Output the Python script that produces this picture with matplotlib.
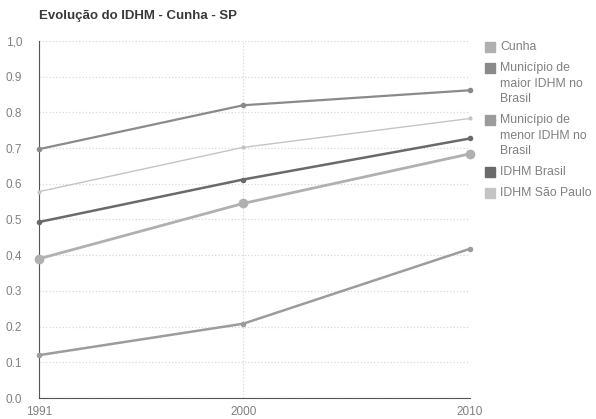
import matplotlib.pyplot as plt
from matplotlib.patches import Rectangle

anos = [1991, 2000, 2010]
cunha = [0.390, 0.545, 0.684]
maior_idhm = [0.697, 0.820, 0.862]
menor_idhm = [0.120, 0.208, 0.418]
idhm_brasil = [0.493, 0.612, 0.727]
idhm_sp = [0.578, 0.702, 0.783]

nomes = ['Cunha', 'Município de\nmaior IDHM no\nBrasil', 'Município de\nmenor IDHM no\nBrasil',
         'IDHM Brasil', 'IDHM São Paulo']
series = [cunha, maior_idhm, menor_idhm, idhm_brasil, idhm_sp]
cores = ['#b0b0b0', '#8a8a8a', '#9c9c9c', '#6a6a6a', '#c4c4c4']
larguras = [2.0, 1.6, 1.8, 1.8, 1.0]
marcas = [7, 4, 4, 4, 3]

plt.rcParams['font.family'] = ['Liberation Sans', 'DejaVu Sans']

W, H = 596, 419
fig = plt.figure(figsize=(W / 100, H / 100), dpi=100)
ax = fig.add_axes([39 / W, 1 - 398 / H, 431 / W, 357 / H])

for valores, cor, lw, ms in zip(series, cores, larguras, marcas):
    ax.plot(anos, valores, color=cor, linewidth=lw, marker='o', markersize=ms,
            markeredgewidth=0, clip_on=False, zorder=3)

ax.set_xlim(1991, 2010)
ax.set_ylim(0, 1)
ax.set_xticks(anos)
ax.set_yticks([i / 10 for i in range(11)])
ax.set_yticklabels(['1,0' if i == 10 else f'{i / 10:.1f}' for i in range(11)])
ax.tick_params(axis='both', length=0, labelsize=8.5, colors='#808080')
ax.tick_params(axis='x', pad=6)
ax.tick_params(axis='y', pad=12)

ax.grid(True, color='#d8d8d8', linestyle=':', linewidth=0.9)
for lado in ['top', 'right']:
    ax.spines[lado].set_visible(False)
ax.spines['left'].set_color('#555555')
ax.spines['bottom'].set_color('#555555')

fig.text(39 / W, 1 - 16 / H, 'Evolução do IDHM - Cunha - SP', fontsize=9.5,
         fontweight='bold', color='#3a3a3a', va='center')

# legenda: quadrado alinhado com a primeira linha de cada item
topos = [47, 68, 120, 172, 193]
for nome, cor, y in zip(nomes, cores, topos):
    fig.patches.append(Rectangle((485 / W, 1 - (y + 5) / H), 10 / W, 10 / H,
                                 transform=fig.transFigure, color=cor))
    fig.text(500 / W, 1 - (y - 6) / H, nome, fontsize=8.8, color='#808080',
             va='top', linespacing=1.4)

fig.savefig('out.png')
